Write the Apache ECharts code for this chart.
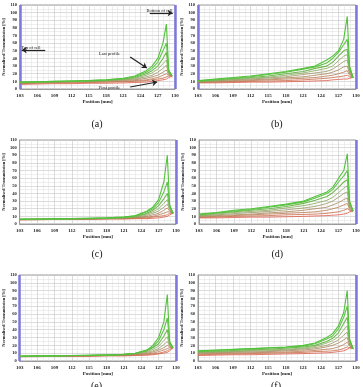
<!DOCTYPE html>
<html>
<head>
<meta charset="utf-8">
<script src="https://cdn.jsdelivr.net/npm/echarts@6/dist/echarts.min.js"></script>
<style>
  html, body { margin: 0; padding: 0; background: #fff; }
  #chart { width: 363px; height: 387px; }
</style>
</head>
<body>
<div id="chart"></div>
<script>
// positions along the cell [mm]
var positions = [103, 106, 109, 112, 115, 118, 121, 123, 125, 126, 127, 127.9, 128.5, 128.9, 129.5];
var xTicks = [103, 106, 109, 112, 115, 118, 121, 124, 127, 130];
var yTicks = [0, 10, 20, 30, 40, 50, 60, 70, 80, 90, 100, 110];

// first profile (red) ... last profile (green)
var profilesA = [
  [6, 6.5, 7, 7, 7.5, 7.5, 8, 8.5, 9, 10, 11, 12, 13, 15, 17],
  [7, 7.5, 8, 8, 8.5, 9, 9.5, 10, 11, 12, 13, 14, 16, 17, 17],
  [7.5, 8, 8.5, 9, 9, 9.5, 10, 11, 12, 13.5, 15, 18, 20, 18, 17],
  [8, 8.5, 9, 9.5, 10, 10.5, 11, 12, 14, 16, 18, 22, 25, 19, 17],
  [8, 8.5, 9, 9.5, 10, 10.5, 12, 13, 16, 18, 22, 27, 31, 20, 17],
  [8.5, 9, 9.5, 10, 10.5, 11, 12.5, 14, 18, 21, 26, 33, 38, 21, 17],
  [8.5, 9, 9.5, 10, 10.5, 11.5, 13, 15, 20, 24, 30, 40, 48, 22, 17],
  [9, 9.5, 10, 10.5, 11, 12, 13.5, 16, 22, 27, 35, 50, 60, 24, 17],
  [9, 9.5, 10, 10.5, 11, 12, 14, 17, 24, 30, 40, 60, 85, 25, 17]
];
var profilesB = [
  [8, 8, 8.5, 9, 9, 9.5, 10, 10.5, 11, 12, 12.5, 13, 13, 14, 15],
  [8.5, 9, 9.5, 10, 10.5, 11, 12, 13, 14, 15, 16, 17, 18, 16, 15],
  [9, 9.5, 10, 11, 12, 13, 14, 15, 17, 18, 20, 22, 24, 18, 15],
  [9, 10, 11, 12, 13, 14.5, 16, 18, 20, 22, 25, 29, 30, 20, 15],
  [9.5, 10.5, 12, 13, 14.5, 16, 19, 21, 23, 26, 31, 36, 38, 22, 15],
  [10, 11, 12.5, 14, 15.5, 18, 21, 24, 27, 30, 37, 43, 45, 24, 15],
  [10, 12, 13.5, 15, 17, 20, 23, 27, 30, 35, 43, 50, 52, 26, 15],
  [10.5, 12.5, 14, 16, 19, 22, 26, 29, 34, 40, 48, 58, 65, 28, 15],
  [11, 13, 15, 17, 20, 23, 27, 30, 38, 43, 50, 65, 95, 30, 15]
];
var profilesC = [
  [5.5, 5.5, 6, 6, 6, 6.5, 6.5, 7, 7, 7.5, 8, 9, 10, 12, 14],
  [5.5, 6, 6, 6.5, 6.5, 7, 7, 7.5, 8, 9, 10, 11, 12, 14, 14],
  [6, 6, 6, 6.5, 6.5, 7, 7.5, 8, 9, 10, 12, 14, 16, 16, 14],
  [6, 6, 6.5, 6.5, 7, 7, 7.5, 8.5, 10, 12, 14, 18, 21, 17, 14],
  [6, 6, 6.5, 6.5, 7, 7.5, 8, 9, 11.5, 14, 17, 22, 26, 19, 14],
  [6, 6, 6.5, 7, 7, 7.5, 8, 9.5, 13, 16, 20, 27, 32, 20, 14],
  [6, 6.5, 6.5, 7, 7, 7.5, 8.5, 10, 14, 18, 24, 33, 40, 22, 14],
  [6, 6.5, 6.5, 7, 7.5, 8, 9, 10.5, 16, 20, 28, 42, 55, 24, 14],
  [6, 6.5, 7, 7, 7.5, 8, 9, 11, 17, 22, 32, 55, 90, 25, 14]
];
var profilesD = [
  [8, 8, 8.5, 9, 9, 9.5, 10, 10.5, 11, 11.5, 12, 13, 14, 16, 17],
  [8.5, 9, 10, 10.5, 11, 12, 12.5, 13, 14, 15, 16, 18, 20, 18, 17],
  [9, 10, 11, 12, 13, 14, 15, 16, 18, 20, 22, 25, 27, 19, 17],
  [10, 11, 12, 13, 14.5, 16, 18, 20, 22, 25, 28, 32, 34, 21, 17],
  [10.5, 12, 13.5, 15, 16.5, 18.5, 21, 23, 27, 30, 35, 40, 42, 23, 17],
  [11, 13, 15, 16.5, 18, 21, 24, 27, 31, 35, 41, 47, 50, 25, 17],
  [12, 14, 16, 18, 20, 23, 27, 31, 36, 41, 48, 55, 58, 27, 17],
  [12.5, 14.5, 17, 19, 22, 25, 29, 34, 40, 45, 55, 63, 70, 28, 17],
  [13, 15, 18, 20, 23, 26, 30, 36, 42, 48, 60, 70, 92, 30, 17]
];
var profilesE = [
  [5.5, 5.5, 6, 6, 6, 6.5, 6.5, 7, 7.5, 8, 9, 10, 11, 13, 17],
  [5.5, 6, 6, 6.5, 6.5, 7, 7, 7.5, 8, 9, 10, 11.5, 13, 15, 17],
  [6, 6, 6, 6.5, 6.5, 7, 7.5, 8, 9, 10, 12, 14, 16, 17, 17],
  [6, 6, 6.5, 6.5, 7, 7, 7.5, 8.5, 10, 11.5, 14, 17, 20, 18, 17],
  [6, 6, 6.5, 6.5, 7, 7.5, 8, 9, 11, 13, 16, 21, 25, 19, 17],
  [6, 6, 6.5, 7, 7, 7.5, 8, 9.5, 12, 15, 19, 26, 31, 20, 17],
  [6, 6.5, 6.5, 7, 7, 7.5, 8.5, 10, 13, 17, 22, 32, 40, 22, 17],
  [6, 6.5, 6.5, 7, 7.5, 8, 8.5, 10, 14, 18, 26, 40, 55, 24, 17],
  [6, 6.5, 6.5, 7, 7, 7.5, 8.5, 10, 14, 20, 30, 50, 85, 25, 17]
];
var profilesF = [
  [7, 7.5, 8, 8, 8.5, 9, 9.5, 10, 10.5, 11, 12, 13, 15, 17, 16],
  [8, 8.5, 9, 9.5, 10, 10.5, 11, 12, 12.5, 13, 14, 16, 18, 17, 16],
  [9, 9.5, 10, 10.5, 11, 11.5, 12.5, 13.5, 15, 16, 18, 21, 24, 19, 16],
  [10, 10.5, 11, 11.5, 12, 13, 14, 15.5, 18, 20, 23, 27, 30, 20, 16],
  [10.5, 11, 12, 12.5, 13, 14, 15.5, 17, 20, 23, 27, 33, 37, 21, 16],
  [11, 12, 12.5, 13.5, 14, 15, 16.5, 18.5, 23, 26, 31, 40, 45, 23, 16],
  [12, 12.5, 13.5, 14.5, 15, 16.5, 18, 20, 25, 29, 36, 48, 56, 25, 16],
  [12.5, 13.5, 14.5, 15.5, 16.5, 17.5, 19, 22, 28, 32, 41, 56, 70, 27, 16],
  [13, 14, 15, 16, 17, 18, 20, 23, 30, 35, 45, 62, 90, 28, 16]
];

var panels = [profilesA, profilesB, profilesC, profilesD, profilesE, profilesF];
var panelNames = ['(a)', '(b)', '(c)', '(d)', '(e)', '(f)'];
// cell edges drawn in blue on each panel
var cellEdges = [[103, 130], [103, 130], [130], [130], [103, 130], [130]];

// red (first) -> green (last)
var colors = ['#dd5a48', '#cc6a48', '#bb7a50', '#a8845a', '#9a9660', '#86a85a', '#72b852', '#62c44a', '#52c23a'];

var gridBoxes = [
  { left: 20, top: 5, width: 155, height: 84 },
  { left: 198, top: 5, width: 158, height: 84 },
  { left: 19, top: 140, width: 157, height: 84 },
  { left: 199, top: 140, width: 157, height: 84 },
  { left: 18, top: 275, width: 158, height: 86 },
  { left: 198, top: 275, width: 158, height: 86 }
];
var labelTops = [119, 119, 249, 249, 381, 381];

var serif = 'Liberation Serif';
var grid = [], xAxis = [], yAxis = [], series = [], graphic = [];

gridBoxes.forEach(function (g, i) {
  grid.push({ left: g.left, top: g.top, width: g.width, height: g.height, show: true, borderColor: '#9a9a9a', borderWidth: 1 });
  xAxis.push({
    type: 'value', gridIndex: i, min: 103, max: 130, interval: 3,
    name: 'Position [mm]', nameLocation: 'middle', nameGap: 10,
    nameTextStyle: { fontFamily: serif, fontWeight: 'bold', fontSize: 5, color: '#222' },
    axisLine: { lineStyle: { color: '#9a9a9a' } },
    axisTick: { show: false },
    axisLabel: { fontFamily: serif, fontWeight: 'bold', fontSize: 5, color: '#222', margin: 4,
      formatter: function (v) { return xTicks.indexOf(v) >= 0 ? v : ''; } },
    splitLine: { show: true, lineStyle: { color: '#c4c4c4', width: 0.6 } },
    minorTick: { show: false, splitNumber: 3 },
    minorSplitLine: { show: true, lineStyle: { color: '#dedede', width: 0.5 } }
  });
  yAxis.push({
    type: 'value', gridIndex: i, min: 0, max: 110, interval: 10,
    name: 'Normalised Transmission [%]', nameLocation: 'middle', nameGap: 11,
    nameTextStyle: { fontFamily: serif, fontWeight: 'bold', fontSize: 4.5, color: '#222' },
    axisLine: { lineStyle: { color: '#9a9a9a' } },
    axisTick: { show: false },
    axisLabel: { fontFamily: serif, fontWeight: 'bold', fontSize: 4.5, color: '#222', margin: 3,
      formatter: function (v) { return yTicks.indexOf(v) >= 0 ? v : ''; } },
    splitLine: { show: true, lineStyle: { color: '#c4c4c4', width: 0.6 } },
    minorTick: { show: false, splitNumber: 2 },
    minorSplitLine: { show: true, lineStyle: { color: '#dedede', width: 0.5 } }
  });

  panels[i].forEach(function (prof, k) {
    var s = {
      type: 'line', xAxisIndex: i, yAxisIndex: i, showSymbol: false, silent: true,
      lineStyle: { color: colors[k], width: k >= 6 ? 1.1 : 0.8 },
      data: positions.map(function (x, j) { return [x, prof[j]]; }),
      z: 3 + k
    };
    if (k === 0) {
      s.markLine = {
        silent: true, symbol: 'none', label: { show: false },
        lineStyle: { color: '#7f78dc', width: 2.5, type: 'solid' },
        data: cellEdges[i].map(function (e) { return { xAxis: e }; })
      };
    }
    series.push(s);
  });

  graphic.push({
    type: 'text', left: g.left + g.width / 2 - 6, top: labelTops[i],
    style: { text: panelNames[i], font: '10px "Liberation Serif"', fill: '#111' }
  });
});

// annotations on panel (a)
var arrowColor = '#222';
series.push({
  type: 'line', xAxisIndex: 0, yAxisIndex: 0, data: [], silent: true,
  markLine: {
    silent: true, symbol: ['none', 'arrow'], symbolSize: 5,
    label: { show: false },
    lineStyle: { color: arrowColor, width: 1.2, type: 'solid' },
    data: [
      [{ coord: [125.6, 99.5] }, { coord: [129.6, 99.5] }],
      [{ coord: [107.4, 51] }, { coord: [103.3, 51] }],
      [{ coord: [122.2, 42] }, { coord: [125.1, 27.5] }],
      [{ coord: [122.2, 2.6] }, { coord: [126.9, 9.2] }]
    ]
  },
  markPoint: {
    silent: true, symbolSize: 0,
    label: { show: true, fontFamily: serif, fontSize: 4.5, color: '#222' },
    data: [
      { coord: [127.3, 103], value: 'Bottom of cell' },
      { coord: [104.9, 54], value: 'Top of cell' },
      { coord: [118.6, 45.5], value: 'Last profile' },
      { coord: [118.6, 2], value: 'First profile' }
    ]
  }
});

var chart = echarts.init(document.getElementById('chart'), null, { renderer: 'canvas' });
chart.setOption({
  animation: false,
  backgroundColor: '#fff',
  grid: grid, xAxis: xAxis, yAxis: yAxis, series: series, graphic: graphic
});
</script>
</body>
</html>
